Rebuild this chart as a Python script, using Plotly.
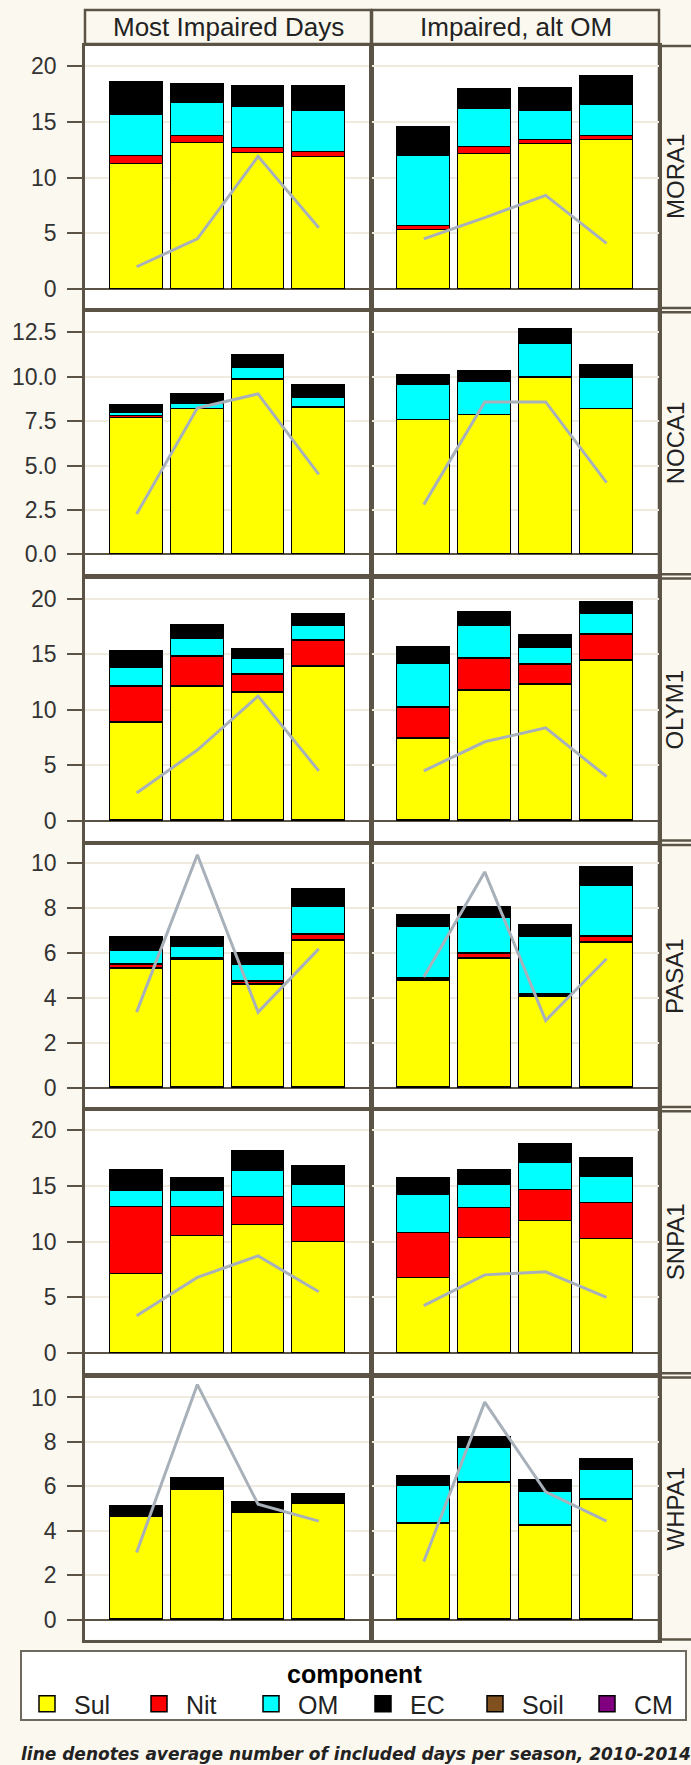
import plotly.graph_objects as go

W, H = 691, 1765

sites = ["MORA1", "NOCA1", "OLYM1", "PASA1", "SNPA1", "WHPA1"]
panels = ["Most Impaired Days", "Impaired, alt OM"]
seasons = ["Winter", "Spring", "Summer", "Fall"]
components = ["Sul", "Nit", "OM", "EC", "Soil", "CM"]
comp_colors = ["#FFFF00", "#FF0000", "#00FFFF", "#000000", "#80501E", "#800080"]

# segment heights (Mm-1) per site (rows) and season (cols)
sul_most = [[11.2, 13.1, 12.2, 11.85], [7.67, 8.14, 9.81, 8.23], [8.84, 12.09, 11.52, 13.85],
            [5.3, 5.67, 4.59, 6.54], [7.08, 10.48, 11.49, 9.91], [4.66, 5.84, 4.84, 5.22]]
nit_most = [[0.75, 0.6, 0.45, 0.45], [0.08, 0.03, 0.02, 0.03], [3.25, 2.69, 1.67, 2.36],
            [0.17, 0.08, 0.11, 0.28], [6.02, 2.62, 2.5, 3.19], [0, 0, 0, 0]]
om_most = [[3.65, 3.0, 3.65, 3.7], [0.18, 0.27, 0.64, 0.51], [1.73, 1.58, 1.38, 1.37],
           [0.61, 0.51, 0.76, 1.21], [1.42, 1.42, 2.32, 1.93], [0, 0, 0, 0]]
ec_most = [[3.0, 1.7, 1.9, 2.2], [0.45, 0.54, 0.73, 0.75], [1.4, 1.19, 0.8, 1.02],
           [0.59, 0.41, 0.5, 0.77], [1.91, 1.19, 1.76, 1.76], [0.44, 0.53, 0.43, 0.41]]
days_most = [[2.0, 4.5, 11.9, 5.5], [2.27, 8.23, 9.03, 4.5], [2.48, 6.36, 11.22, 4.48],
             [3.37, 10.36, 3.37, 6.18], [3.36, 6.79, 8.72, 5.5], [3.02, 10.58, 5.19, 4.43]]

sul_alt = [[5.3, 12.1, 13.0, 13.35], [7.54, 7.82, 9.93, 8.14], [7.4, 11.67, 12.24, 14.45],
           [4.75, 5.74, 4.04, 6.43], [6.7, 10.27, 11.82, 10.24], [4.32, 6.18, 4.23, 5.4]]
nit_alt = [[0.35, 0.6, 0.4, 0.4], [0.03, 0.03, 0.03, 0.03], [2.75, 2.96, 1.82, 2.27],
           [0.1, 0.22, 0.11, 0.27], [4.1, 2.71, 2.76, 3.21], [0, 0, 0, 0]]
om_alt = [[6.25, 3.45, 2.6, 2.75], [1.96, 1.81, 1.84, 1.72], [4.0, 2.98, 1.55, 1.94],
          [2.29, 1.6, 2.55, 2.29], [3.34, 2.05, 2.44, 2.29], [1.7, 1.59, 1.52, 1.35]]
ec_alt = [[2.6, 1.75, 2.05, 2.6], [0.54, 0.64, 0.84, 0.74], [1.4, 1.17, 1.02, 1.01],
          [0.51, 0.44, 0.5, 0.79], [1.57, 1.4, 1.73, 1.76], [0.43, 0.41, 0.52, 0.44]]
days_alt = [[4.5, 6.4, 8.4, 4.1], [2.8, 8.58, 8.58, 4.04], [4.48, 7.1, 8.36, 3.97],
            [4.93, 9.6, 3.0, 5.74], [4.26, 7.02, 7.29, 5.0], [2.61, 9.79, 5.75, 4.43]]

y_ranges = [[-1.7, 21.8], [-1.12, 13.62], [-1.8, 21.8], [-0.84, 10.8], [-1.8, 21.7], [-0.9, 10.9]]
y_dticks = [5, 2.5, 5, 2, 5, 2]
y_formats = ["d", ".1f", "d", "d", "d", "d"]

legend_title = "component"
caption = "line denotes average number of included days per season, 2010-2014"

FONT = "Liberation Sans, Arial, sans-serif"
FRAME = "#5B5446"
CREAM = "#FBF8EF"
GRID = "#EFEBDF"
LINE = "#A8B0B9"

panel_data = [
    [sul_most, nit_most, om_most, ec_most, days_most],
    [sul_alt, nit_alt, om_alt, ec_alt, days_alt],
]

# layout geometry in pixels
col_px = [(85, 371), (372, 659)]
row_top0, row_pitch, row_h = 46, 266.3, 262


def px_x(p):
    return p / W


def px_y(p):
    return 1 - p / H


fig = go.Figure()
layout = {}
shapes = []
annotations = []

for r, site in enumerate(sites):
    top = row_top0 + r * row_pitch
    bot = top + row_h
    for c in range(2):
        k = r * 2 + c + 1
        xa = "x" if k == 1 else f"x{k}"
        ya = "y" if k == 1 else f"y{k}"
        sul, nit, om, ec, days = panel_data[c]
        for comp_vals, name, color in zip([sul, nit, om, ec], components[:4], comp_colors[:4]):
            fig.add_trace(go.Bar(
                x=seasons, y=comp_vals[r], name=name, width=0.87,
                marker=dict(color=color, line=dict(color="#000000", width=1.5)),
                xaxis=xa, yaxis=ya, showlegend=False,
            ))
        fig.add_trace(go.Scatter(
            x=seasons, y=days[r], mode="lines", line=dict(color=LINE, width=3),
            xaxis=xa, yaxis=ya, showlegend=False, hoverinfo="skip",
        ))
        xname = "xaxis" if k == 1 else f"xaxis{k}"
        yname = "yaxis" if k == 1 else f"yaxis{k}"
        layout[xname] = dict(
            domain=[px_x(col_px[c][0]), px_x(col_px[c][1])],
            anchor=ya, type="category", categoryorder="array", categoryarray=seasons,
            range=[-0.85, 3.86], showticklabels=False, ticks="", showgrid=False,
            zeroline=False, showline=True, mirror=True, linecolor=FRAME, linewidth=2.5,
            automargin=False,
        )
        yax = dict(
            domain=[px_y(bot), px_y(top)], anchor=xa, range=y_ranges[r], dtick=y_dticks[r],
            tick0=0, tickformat=y_formats[r], showgrid=True, gridcolor=GRID, gridwidth=1.5,
            zeroline=True, zerolinecolor=FRAME, zerolinewidth=2,
            showline=True, mirror=True, linecolor=FRAME, linewidth=2.5, automargin=False,
        )
        if c == 0:
            yax.update(ticks="outside", ticklen=15, tickwidth=2, tickcolor=FRAME,
                       tickfont=dict(family=FONT, size=23, color="#333333"),
                       ticklabelstandoff=6)
        else:
            yax.update(showticklabels=False, ticks="")
        layout[yname] = yax
    # right strip
    shapes.append(dict(type="rect", xref="paper", yref="paper",
                       x0=px_x(659), x1=px_x(700), y0=px_y(bot), y1=px_y(top),
                       fillcolor=CREAM, line=dict(color=FRAME, width=2.5), layer="below"))
    annotations.append(dict(text=site, xref="paper", yref="paper", x=px_x(675),
                            y=px_y((top + bot) / 2), showarrow=False, textangle=-90,
                            font=dict(family=FONT, size=24, color="#222222"),
                            xanchor="center", yanchor="middle"))

# top strips
for c, title in enumerate(panels):
    shapes.append(dict(type="rect", xref="paper", yref="paper",
                       x0=px_x(col_px[c][0]), x1=px_x(col_px[c][1]), y0=px_y(44), y1=px_y(10),
                       fillcolor=CREAM, line=dict(color=FRAME, width=2.5)))
    annotations.append(dict(text=title, xref="paper", yref="paper",
                            x=px_x((col_px[c][0] + col_px[c][1]) / 2), y=px_y(27),
                            showarrow=False, xanchor="center", yanchor="middle",
                            font=dict(family=FONT, size=26, color="#222222")))

# legend frame and title
shapes.append(dict(type="rect", xref="paper", yref="paper",
                   x0=px_x(21), x1=px_x(686), y0=px_y(1720), y1=px_y(1651),
                   fillcolor="#FFFFFF", line=dict(color="#6E6A60", width=2), layer="above"))
annotations.append(dict(text="<b>" + legend_title + "</b>", xref="paper", yref="paper",
                        x=px_x(354), y=px_y(1674), showarrow=False, xanchor="center",
                        yanchor="middle", font=dict(family=FONT, size=25, color="#000000")))

annotations.append(dict(text="<b><i>" + caption + "</i></b>", xref="paper", yref="paper",
                        x=px_x(356), y=px_y(1754), showarrow=False, xanchor="center",
                        yanchor="middle",
                        font=dict(family="DejaVu Sans, Verdana, sans-serif", size=17,
                                  color="#222222")))

# legend entries
for name, color in zip(components, comp_colors):
    fig.add_trace(go.Scatter(
        x=[None], y=[None], mode="markers", name=name,
        marker=dict(symbol="square", size=16, color=color, line=dict(color="#000000", width=1.5)),
        xaxis="x", yaxis="y", showlegend=True,
    ))

fig.update_layout(
    width=W, height=H,
    margin=dict(l=0, r=0, t=0, b=0, autoexpand=False),
    paper_bgcolor=CREAM, plot_bgcolor="#FFFFFF",
    barmode="stack", bargap=0,
    showlegend=True,
    font=dict(family=FONT, color="#222222"),
    legend=dict(
        orientation="h", x=px_x(20), xanchor="left", y=px_y(1704), yanchor="middle",
        traceorder="normal", bgcolor="rgba(0,0,0,0)", borderwidth=0,
        font=dict(family=FONT, size=25, color="#222222"),
        itemwidth=44, entrywidth=53, itemsizing="trace",
    ),
    shapes=shapes, annotations=annotations,
    **layout,
)

fig.write_html("out.html", config={"displayModeBar": False},
               post_script="document.body.style.margin='0px';document.body.style.background='#FBF8EF';")
